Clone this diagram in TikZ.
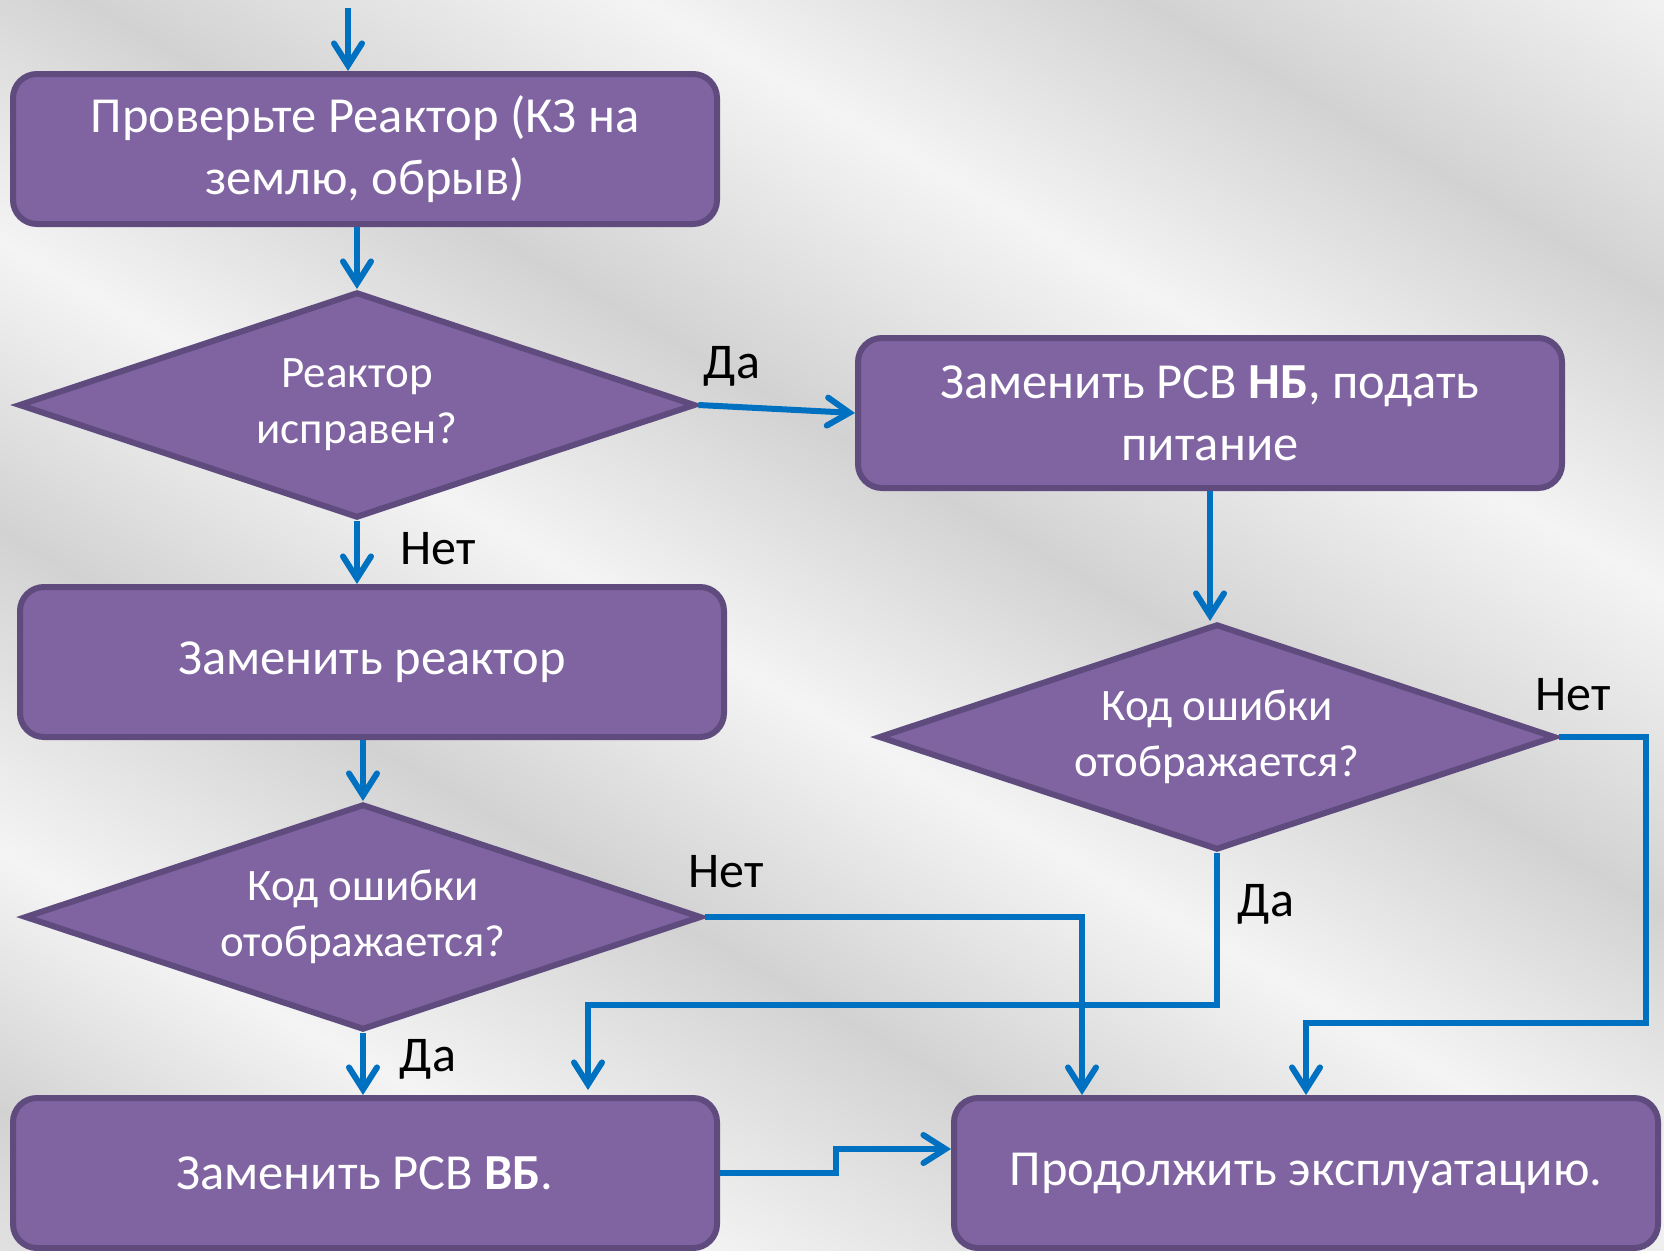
\documentclass[tikz,border=0pt]{standalone}
\usepackage{fontspec}
\setmainfont{Carlito}
\usetikzlibrary{shapes.geometric,arrows.meta}
\definecolor{pfill}{HTML}{8064A2}
\definecolor{pdraw}{HTML}{5F4B7D}
\definecolor{ablue}{HTML}{0070C0}
\definecolor{bgA}{HTML}{D2D2D2}
\definecolor{bgB}{HTML}{F4F4F4}
\pgfdeclarehorizontalshading{silverbg}{100bp}{color(0bp)=(bgA); color(10bp)=(bgB); color(20bp)=(bgA); color(28bp)=(bgB); color(38bp)=(bgA); color(47bp)=(bgB); color(56bp)=(bgA); color(66bp)=(bgB); color(75bp)=(bgA); color(85bp)=(bgB); color(93bp)=(bgA); color(100bp)=(bgB)}
\begin{document}
\begin{tikzpicture}[x=1pt,y=-1pt,
  proc/.style={draw=pdraw, line width=6, fill=pfill, rounded corners=24,
    minimum width=704, minimum height=150, text=white, align=center,
    font=\fontsize{50.5}{62}\selectfont, inner sep=0},
  dec/.style={diamond, shape aspect=2.96, draw=pdraw, line width=6, fill=pfill,
    minimum width=677, minimum height=226, inner sep=0, text=white,
    align=center, font=\fontsize{45}{56}\selectfont},
  lbl/.style={text=black, font=\fontsize{50}{60}\selectfont, inner sep=0},
  arr/.style={draw=ablue, line width=6,
    -{Straight Barb[length=22pt,width=28pt,line cap=round]}}]
\useasboundingbox (0,0) rectangle (1664,1250);
\fill[shading=silverbg, shading angle=60] (0,0) rectangle (1664,1250);

% nodes
\node[proc] (b1) at (365,149) {Проверьте Реактор (КЗ на\\землю, обрыв)};
\node[dec] (d1) at (357,405) {Реактор\\исправен?};
\node[proc] (b2) at (1210,413) {Заменить РСВ \textbf{НБ}, подать\\питание};
\node[proc] (b3) at (372,662) {Заменить реактор};
\node[dec] (d2) at (1217,737) {Код ошибки\\отображается?};
\node[dec] (d3) at (363,917) {Код ошибки\\отображается?};
\node[proc] (b5) at (365,1173) {Заменить РСВ \textbf{ВБ}.};
\node[proc] (b6) at (1306,1173) {Продолжить эксплуатацию.};

% labels
\node[lbl] (l1) at (732,366) {Да};
\node[lbl] (l2) at (438,549) {Нет};
\node[lbl] (l3) at (1573,695) {Нет};
\node[lbl] (l4) at (726,872) {Нет};
\node[lbl] (l5) at (1266,904) {Да};
\node[lbl] (l6) at (428,1059) {Да};

% coordinates
\coordinate (start) at (348,8);
\coordinate (c1) at (1646,1023);
\coordinate (c2) at (588,1005);
\coordinate (c3) at (1082,917);
\coordinate (c4) at (836,1173);

% connectors
\draw[arr] (start) -- (start |- b1.north);
\draw[arr] (b1.south -| d1.north) -- (d1.north);
\draw[arr] (d1.east) -- (b2.west);
\draw[arr] (d1.south) -- (d1.south |- b3.north);
\draw[arr] (b3.south -| d3.north) -- (d3.north);
\draw[arr] (d3.south) -- (d3.south |- b5.north);
\draw[arr] (b2.south) -- (b2.south |- d2.north);
\draw[arr] (d2.east) -| (c1) -| (b6.north);
\draw[arr] (d2.south) |- (c2) -- ([yshift=5]c2 |- b5.north);
\draw[arr] (d3.east) -- (c3) -- (c3 |- b6.north);
\draw[arr] (b5.east) -- (c4) |- ([yshift=24]b6.west);
\end{tikzpicture}
\end{document}
